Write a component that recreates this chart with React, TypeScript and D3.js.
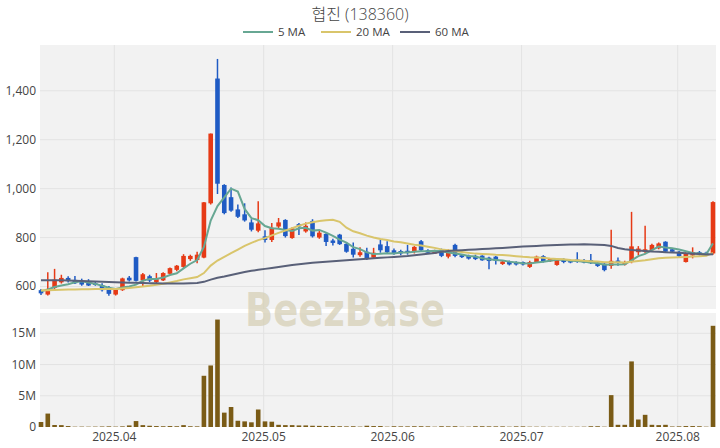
import React from "react";
import * as d3 from "d3";

const title = "협진 (138360)";
const legendLabels = ["5 MA", "20 MA", "60 MA"];
const startDate = "2025-03-17";
const endDate = "2025-08-08";
const holidays = ["2025-05-01", "2025-05-05", "2025-05-06", "2025-06-03", "2025-06-06"];

const opens = [585,567,594,617,635,627,622,620,613,606,590,567,585,636,720,625,642,618,625,652,668,680,712,708,718,940,1450,1015,965,915,895,862,828,805,790,845,872,798,855,825,868,800,815,788,812,774,754,728,742,718,772,765,748,745,746,742,785,748,735,750,722,770,728,726,725,726,718,722,692,703,700,700,680,700,724,703,688,712,706,710,708,708,698,693,684,706,690,700,740,742,748,756,783,752,742,700,727,740,738,735];
const highs = [590,658,672,648,642,643,632,630,618,613,602,592,636,643,722,655,648,655,658,678,688,732,730,742,945,1225,1530,1018,1005,935,940,875,948,830,860,880,875,842,860,862,875,830,818,795,815,780,780,760,758,758,790,785,755,750,770,765,790,752,750,755,752,775,732,730,730,728,722,725,705,706,703,702,705,726,728,715,715,715,710,740,712,733,702,696,832,718,705,905,765,848,775,780,785,756,745,740,760,745,742,948];
const lows = [565,563,590,612,616,610,603,602,603,580,562,563,582,620,620,598,618,612,622,650,662,676,705,695,715,935,978,895,905,880,865,825,822,780,782,838,800,795,810,820,800,795,765,768,770,738,718,722,708,715,738,735,730,728,730,735,745,735,733,720,715,720,716,710,708,705,670,690,688,686,686,686,676,698,698,700,685,695,695,697,695,692,680,662,672,685,686,695,728,735,745,752,740,738,720,698,715,726,727,730];
const closes = [572,590,628,635,622,613,608,604,606,585,570,586,633,625,623,650,624,630,655,675,685,725,725,730,944,1225,1020,900,910,885,870,832,858,790,840,862,806,838,845,848,805,820,782,778,773,742,730,740,712,738,748,740,735,735,738,762,748,738,745,725,740,725,720,714,712,707,704,705,702,690,690,690,700,722,702,712,712,700,698,700,698,695,684,667,705,696,700,764,755,752,770,776,742,742,724,736,740,730,730,945];
// trading volume, millions of shares
const volumes = [0.8,2.15,0.32,0.3,0.15,0.05,0.06,0.05,0.06,0.08,0.1,0.06,0.1,0.25,0.95,0.3,0.2,0.15,0.12,0.15,0.12,0.3,0.12,0.1,8.2,9.85,17.2,2.3,3.2,1.0,0.9,0.75,2.8,0.9,0.85,0.35,0.3,0.3,0.25,0.25,0.2,0.18,0.15,0.15,0.12,0.1,0.12,0.06,0.2,0.15,0.15,0.05,0.12,0.1,0.1,0.12,0.12,0.1,0.05,0.12,0.1,0.12,0.05,0.05,0.12,0.12,0.1,0.1,0.1,0.05,0.1,0.1,0.05,0.05,0.05,0.04,0.04,0.04,0.04,0.04,0.05,0.12,0.12,0.05,5.1,0.35,0.35,10.5,1.2,1.95,0.35,0.3,0.35,0.08,0.1,0.15,0.15,0.12,0.05,16.2];

const ma5Head = [580, 588, 598, 604];
const ma20Head = [585,585,586,587,588,588,589,589,590,590,590,590,592,594,597,600,603,607,611];
const ma60Head = [626,626,625,625,624,623,622,621,620,619,618,617,616,615,615,614,613,613,612,612,612,612,613,614,619,628,636,641,647,653,659,664,668,672,676,680,684,688,691,694,697,699,701,703,705,707,709,711,713,715,717,719,721,723,725,728,731,734,737];

const priceTicks = [600, 800, 1000, 1200, 1400];
const volumeTicks = [0, 5, 10, 15];
const volumeTickLabels = ["0", "5M", "10M", "15M"];

const W = 720, H = 448;
const L = 40, R = 716;
const mainTop = 45, mainBottom = 309;
const volTop = 313, volBottom = 427;

const UP = "#e63a16";
const DOWN = "#1f5bc4";
const MA_COLORS = ["#67a793", "#d9c56b", "#596078"];
const VOL = "#7a5b16";
const BG = "#f2f2f2";
const GRID = "#e3e3e3";
const FONT = "'Open Sans', 'Noto Sans CJK KR', sans-serif";

function tradingDays(): Date[] {
  const out: Date[] = [];
  const hol = new Set(holidays);
  const d = new Date(startDate + "T00:00:00Z");
  const end = new Date(endDate + "T00:00:00Z");
  while (d <= end) {
    const wd = d.getUTCDay();
    const key = d.toISOString().slice(0, 10);
    if (wd !== 0 && wd !== 6 && !hol.has(key)) out.push(new Date(d));
    d.setUTCDate(d.getUTCDate() + 1);
  }
  return out;
}

function movingAvg(vals: number[], n: number, head: number[]) {
  return vals.map((_, i) => (i < n - 1 ? head[i] : (d3.mean(vals.slice(i - n + 1, i + 1)) as number)));
}

export default function App() {
  const days = tradingDays();
  const n = closes.length;
  const x = d3.scaleLinear().domain([0, n - 1]).range([41, 713]);
  const y = d3.scaleLinear().domain([508, 1587]).range([mainBottom, mainTop]);
  const yv = d3.scaleLinear().domain([0, 18.25]).range([volBottom, volTop]);
  const bw = 4.6;

  const mas = [movingAvg(closes, 5, ma5Head), movingAvg(closes, 20, ma20Head), movingAvg(closes, 60, ma60Head)];
  const line = d3.line<number>().x((_, i) => x(i)).y((v) => y(v));

  const monthTicks: { i: number; label: string }[] = [];
  days.forEach((d, i) => {
    if (i > 0 && d.getUTCMonth() !== days[i - 1].getUTCMonth()) {
      monthTicks.push({ i: i - 0.2, label: `${d.getUTCFullYear()}.${String(d.getUTCMonth() + 1).padStart(2, "0")}` });
    }
  });

  const legendX = [243, 321, 400];

  return (
    <svg width={W} height={H} style={{ position: "absolute", left: 0, top: 0, background: "#fff" }} fontFamily={FONT}>
      <rect x={L} y={mainTop} width={R - L} height={mainBottom - mainTop} fill={BG} />
      <rect x={L} y={volTop} width={R - L} height={volBottom - volTop} fill={BG} />
      {monthTicks.map((t) => (
        <g key={t.label}>
          <line x1={x(t.i)} x2={x(t.i)} y1={mainTop} y2={mainBottom} stroke={GRID} />
          <line x1={x(t.i)} x2={x(t.i)} y1={volTop} y2={volBottom} stroke={GRID} />
          <text x={x(t.i)} y={441} textAnchor="middle" fontSize={12} fill="#444">{t.label}</text>
        </g>
      ))}
      {priceTicks.map((p) => (
        <g key={p}>
          <line x1={L} x2={R} y1={y(p)} y2={y(p)} stroke={GRID} />
          <text x={36} y={y(p) + 4} textAnchor="end" fontSize={12} fill="#444">{d3.format(",")(p)}</text>
        </g>
      ))}
      {volumeTicks.map((v, k) => (
        <g key={v}>
          {v > 0 && <line x1={L} x2={R} y1={yv(v)} y2={yv(v)} stroke={GRID} />}
          <text x={36} y={yv(v) + 4} textAnchor="end" fontSize={12} fill="#444">{volumeTickLabels[k]}</text>
        </g>
      ))}
      <text x={345} y={326} textAnchor="middle" fontSize={46} fontWeight="bold" fill="#d6d0b6" fillOpacity={0.75}
        textLength={200} lengthAdjust="spacingAndGlyphs" fontFamily="'DejaVu Sans', sans-serif">BeezBase</text>
      {closes.map((c, i) => {
        const o = opens[i];
        const col = c >= o ? UP : DOWN;
        const top = y(Math.max(o, c));
        const bot = y(Math.min(o, c));
        return (
          <g key={i}>
            <line x1={x(i)} x2={x(i)} y1={y(highs[i])} y2={y(lows[i])} stroke={col} strokeWidth={1.5} />
            <rect x={x(i) - bw / 2} y={top} width={bw} height={Math.max(1, bot - top)} fill={col} />
          </g>
        );
      })}
      {mas.map((m, k) => (
        <path key={k} d={line(m) || ""} fill="none" stroke={MA_COLORS[k]} strokeWidth={2} />
      ))}
      {volumes.map((v, i) => (
        <rect key={i} x={x(i) - bw / 2} y={yv(v)} width={bw} height={volBottom - yv(v)} fill={VOL} />
      ))}
      <text x={360} y={20} textAnchor="middle" fontSize={16} fill="#444" fontWeight={300}>{title}</text>
      {legendLabels.map((lab, k) => (
        <g key={lab}>
          <line x1={legendX[k]} x2={legendX[k] + 30} y1={32} y2={32} stroke={MA_COLORS[k]} strokeWidth={2} />
          <text x={legendX[k] + 35} y={36} fontSize={11.5} fill="#444">{lab}</text>
        </g>
      ))}
    </svg>
  );
}
